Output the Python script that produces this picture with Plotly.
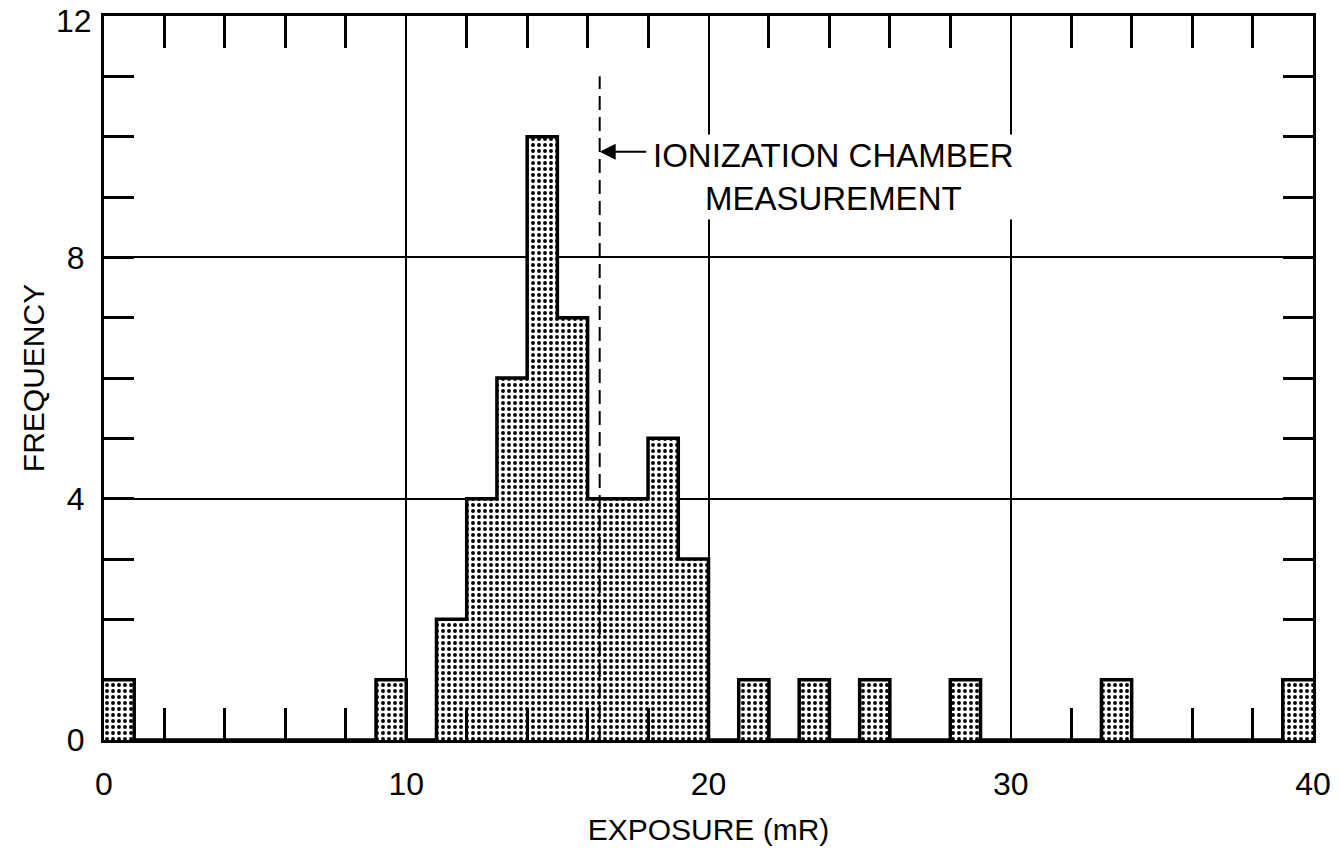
import plotly.graph_objects as go

# ---- data ----
bin_left = [0, 9, 11, 12, 13, 14, 15, 16, 17, 18, 19, 21, 23, 25, 28, 33, 39]
frequency = [1, 1, 2, 4, 6, 10, 7, 4, 4, 5, 3, 1, 1, 1, 1, 1, 1]
bin_width = 1
x_range = [0, 40]
y_range = [0, 12]
y_tick_values = [0, 4, 8, 12]
y_tick_labels = ["0", "4", "8", "12"]
ion_chamber_exposure = 16.4
ion_line_top = 11
arrow_y = 9.75

FONT = "Liberation Sans, Arial, sans-serif"

# full per-bin counts to draw the outer outline of the histogram
n_bins = int((x_range[1] - x_range[0]) / bin_width)
counts = [0] * n_bins
for b, f in zip(bin_left, frequency):
    counts[int(b / bin_width)] = f
edges = [x_range[0] + i * bin_width for i in range(n_bins + 1)]

fig = go.Figure()

fig.add_trace(go.Bar(
    x=[b + bin_width / 2 for b in bin_left],
    y=frequency,
    width=bin_width,
    marker=dict(
        color="white",
        line=dict(width=0),
        pattern=dict(shape=".", fgcolor="black", bgcolor="white",
                     size=6, solidity=0.33, fillmode="replace"),
    ),
    hoverinfo="skip",
    showlegend=False,
))

fig.add_trace(go.Scatter(
    x=edges, y=counts + [counts[-1]],
    mode="lines", line=dict(color="black", width=3.5, shape="hv"),
    hoverinfo="skip", showlegend=False,
))

fig.add_trace(go.Scatter(
    x=[ion_chamber_exposure, ion_chamber_exposure], y=[0, ion_line_top],
    mode="lines", line=dict(color="black", width=2, dash="14px,7px"),
    hoverinfo="skip", showlegend=False,
))

fig.add_annotation(
    x=ion_chamber_exposure, y=arrow_y, xref="x", yref="y",
    text="", showarrow=True, ax=48, ay=0,
    arrowhead=2, arrowsize=1.6, arrowwidth=2, arrowcolor="black",
)
fig.add_annotation(
    x=ion_chamber_exposure, y=arrow_y, xref="x", yref="y",
    xanchor="left", yanchor="top", xshift=50, yshift=18,
    text="IONIZATION CHAMBER<br>MEASUREMENT", align="center",
    showarrow=False, bgcolor="white", borderpad=2,
    font=dict(family=FONT, size=33, color="black"),
)

# the top y tick label sits right at the page edge: place it just inside
fig.add_annotation(
    x=0, xref="paper", y=y_tick_values[-1], yref="y",
    xanchor="right", yanchor="top", xshift=-10, yshift=15,
    text=y_tick_labels[-1], showarrow=False,
    font=dict(family=FONT, size=32, color="black"),
)

fig.update_layout(
    width=1341, height=854,
    margin=dict(l=104, r=28, t=16, b=114),
    plot_bgcolor="white", paper_bgcolor="white",
    bargap=0,
    font=dict(family=FONT, size=30, color="black"),
    xaxis=dict(
        range=x_range, dtick=10, tick0=0, automargin=False,
        showline=True, linecolor="black", linewidth=3, mirror="ticks",
        ticks="inside", ticklen=32, tickwidth=2, tickcolor="black",
        showgrid=True, gridcolor="black", gridwidth=2,
        zeroline=False, ticklabelstandoff=14, ticklabeloverflow="allow",
        minor=dict(dtick=2, tick0=0, ticks="inside", ticklen=32, tickwidth=2.5,
                   tickcolor="black", showgrid=False),
        title=dict(text="EXPOSURE (mR)", standoff=18, font=dict(size=30)),
        tickfont=dict(size=32),
    ),
    yaxis=dict(
        range=y_range, tickmode="array", tickvals=y_tick_values,
        ticktext=y_tick_labels[:-1] + [""], automargin=False,
        showline=True, linecolor="black", linewidth=3, mirror="ticks",
        ticks="inside", ticklen=30, tickwidth=2, tickcolor="black",
        showgrid=True, gridcolor="black", gridwidth=2,
        zeroline=False, ticklabelstandoff=10, ticklabeloverflow="allow",
        minor=dict(dtick=1, tick0=0, ticks="inside", ticklen=30, tickwidth=2.5,
                   tickcolor="black", showgrid=False),
        title=dict(text="FREQUENCY", standoff=14, font=dict(size=30)),
        tickfont=dict(size=32),
    ),
)

fig.write_html(
    "out.html",
    config={"displayModeBar": False},
    post_script="document.body.style.margin='0';document.body.style.padding='0';"
                "document.body.style.overflow='hidden';",
)
